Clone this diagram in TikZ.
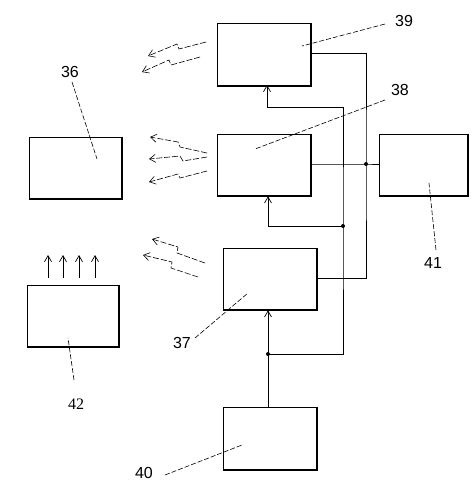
\documentclass[tikz,border=0pt]{standalone}
\usepackage{fontspec}
\setmainfont{Liberation Sans}
\newfontfamily\serifnum{Liberation Serif}
\usetikzlibrary{arrows.meta}
\begin{document}
\begin{tikzpicture}[x=1pt,y=-1pt,
  box/.style={draw, line width=0.7pt, minimum width=94pt, minimum height=62pt, inner sep=0pt},
  conn/.style={line width=0.7pt},
  feed/.style={conn, -{Straight Barb[length=6pt,width=7pt]}},
  leader/.style={line width=0.6pt, dash pattern=on 5pt off 2pt},
  wave/.style={line width=0.6pt, dash pattern=on 6pt off 2pt, -{Straight Barb[length=6pt,width=8pt]}},
  num/.style={font=\fontsize{16}{19}\selectfont, inner sep=0pt},
  dot/.style={circle, fill, inner sep=0pt, minimum size=4pt}]
\useasboundingbox (0,0) rectangle (476,496);
% boxes
\node[box] (b39) at (264,54.5) {};
\node[box] (b38) at (264,165) {};
\node[box] (b37) at (270,279) {};
\node[box, minimum width=93pt] (b36) at (75.5,168) {};
\node[box, minimum width=92pt] (b42) at (73,316) {};
\node[box, minimum height=63pt] (b40) at (270,438.5) {};
\node[box, minimum width=89pt] (b41) at (423.5,165) {};
\foreach \b in {b39,b38,b37,b36,b42,b40,b41}
  \draw[line width=2pt] (\b.north east) -- (\b.south east) -- (\b.south west);
% junctions
\coordinate (J1) at (268,354);
\coordinate (J2) at (343,226);
\coordinate (J3) at (366,164);
\coordinate (T39) at (343,107);
\coordinate (R39) at (366,53);
\coordinate (R37) at (366,278);
% supply lines
\draw[conn] (b40.north -| J1) -- (J1);
\draw[feed] (J1) -- (J1 |- b37.south);
\draw[conn] (J1) -- (J1 -| J2) -- (J2) -- (T39);
\draw[feed] (J2) -- (J2 -| J1) -- (J1 |- b38.south);
\draw[feed] (T39) -- (267,107) -- (267,85) coordinate (a39);
% right bus
\draw[conn] (b39.east |- R39) -- (R39) -- (J3) -- (R37) -- (b37.east |- R37);
\draw[conn] (b38.east |- J3) -- (J3) -- (b41.west |- J3);
\node[dot] at (J1) {};
\node[dot] at (J2) {};
\node[dot] at (J3) {};
% wireless arrows
\draw[wave] (206,42) -- (179,49) -- (177,44) -- (148,56);
\draw[wave] (200,57) -- (171,65) -- (169,60) -- (142,72);
\draw[wave] (207,153) -- (180,147) -- (178,142) -- (150,137);
\draw[wave] (207,157) -- (183,161) -- (180,156) -- (149,159);
\draw[wave] (207,171) -- (180,178) -- (178,174) -- (149,182);
\draw[wave] (205,263) -- (177,253) -- (178,247) -- (152,239);
\draw[wave] (198,277) -- (171,268) -- (172,262) -- (143,255);
% up arrows over 42
\foreach \x in {48,63,79,95}
  \draw[conn, -{Straight Barb[length=6pt,width=7pt]}] (\x,278) -- (\x,255);
% labels
\node[num] (l39) at (404,21) {39};
\node[num] (l38) at (400,90) {38};
\node[num] (l36) at (70,72) {36};
\node[num] (l37) at (182,343) {37};
\node[num, font=\serifnum\fontsize{16}{19}\selectfont] (l42) at (76,404) {42};
\node[num] (l41) at (433,263) {41};
\node[num] (l40) at (144,473) {40};
\draw[leader] (385,24) -- (302,46);
\draw[leader] (385,100) -- (255,149);
\draw[leader] (72,82) -- (97,159);
\draw[leader] (195,338) -- (248,293);
\draw[leader] (74,380) -- (68,338);
\draw[leader] (436,250) -- (429,183);
\draw[leader] (165,475) -- (242,445);
\end{tikzpicture}
\end{document}
